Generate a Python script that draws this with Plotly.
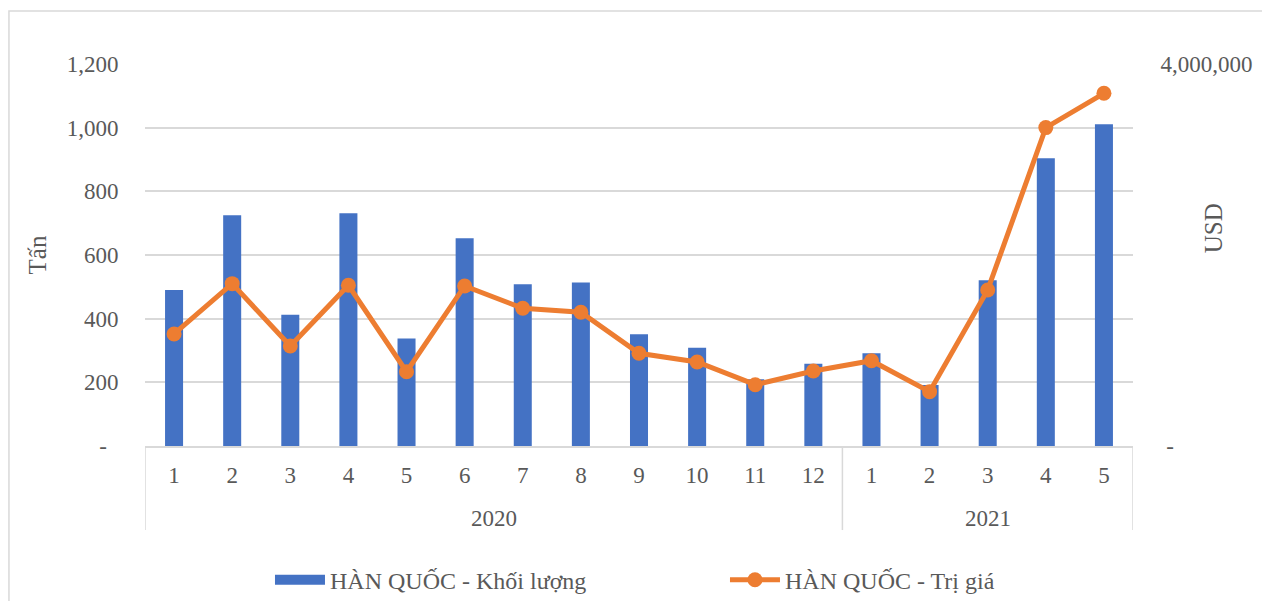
import plotly.graph_objects as go

# Monthly export figures to Korea (HÀN QUỐC), Jan 2020 - May 2021
years = ["2020"] * 12 + ["2021"] * 5
months = [str(m) for m in range(1, 13)] + [str(m) for m in range(1, 6)]
volume_tonnes = [490, 725, 412, 731, 338, 653, 508, 514, 351, 309, 210, 258,
                 291, 192, 521, 904, 1011]
value_usd = [1173000, 1700000, 1047000, 1683000, 778000, 1676000, 1442000, 1400000,
             971000, 880000, 642000, 785000,
             893000, 569000, 1634000, 3334000, 3693000]

left_ticks = [0, 200, 400, 600, 800, 1000, 1200]
left_labels = ["-\u00a0\u00a0", "200", "400", "600", "800", "1,000", "1,200"]
right_ticks = [0, 4000000]
right_labels = ["\u00a0-", "4,000,000"]

BLUE = "#4472C4"
ORANGE = "#ED7D31"
TEXT = "#595959"
GRID = "#D9D9D9"
FONT = "Liberation Serif"

pos = list(range(len(months)))

# group spans for the year row of the category axis
groups = []
for i, yr in enumerate(years):
    if not groups or groups[-1][0] != yr:
        groups.append([yr, i, i])
    else:
        groups[-1][2] = i

fig = go.Figure()
fig.add_trace(go.Bar(
    x=pos, y=volume_tonnes,
    name="HÀN QUỐC - Khối lượng",
    marker=dict(color=BLUE, line=dict(width=0)),
    yaxis="y", showlegend=False,
))
# legend key drawn as a wide block, like a spreadsheet legend
fig.add_trace(go.Scatter(
    x=[None], y=[None], mode="lines",
    name="HÀN QUỐC - Khối lượng",
    line=dict(color=BLUE, width=11),
    yaxis="y",
))
fig.add_trace(go.Scatter(
    x=pos, y=value_usd,
    name="HÀN QUỐC - Trị giá",
    mode="lines+markers",
    line=dict(color=ORANGE, width=5),
    marker=dict(color=ORANGE, size=15),
    yaxis="y2",
))

annotations = []
shapes = []
for yr, i0, i1 in groups:
    annotations.append(dict(
        x=(i0 + i1) / 2, xref="x", y=-0.1885, yref="paper",
        text=yr, showarrow=False, yanchor="middle",
        font=dict(family=FONT, size=23, color=TEXT),
    ))
bounds = [groups[0][1] - 0.5] + [g[2] + 0.5 for g in groups]
for b in bounds:
    shapes.append(dict(
        type="line", xref="x", yref="paper", x0=b, x1=b, y0=0, y1=-0.22,
        line=dict(color=GRID, width=1.5),
    ))

annotations.append(dict(
    x=1.098, xref="paper", y=0.571, yref="paper", text="USD", textangle=-90,
    showarrow=False, font=dict(family=FONT, size=25, color=TEXT),
))

shapes.append(dict(
    type="rect", xref="paper", yref="paper",
    x0=-0.1377, x1=1.14, y0=-0.42, y1=1.1387,
    line=dict(color=GRID, width=1.5), fillcolor="rgba(0,0,0,0)", layer="below",
))

fig.update_layout(
    width=1262, height=601,
    margin=dict(l=145, r=129, t=64, b=155, autoexpand=False),
    paper_bgcolor="white", plot_bgcolor="white",
    font=dict(family=FONT, size=23, color=TEXT),
    bargap=0.69,
    showlegend=True,
    legend=dict(
        orientation="h", x=0.1265, xanchor="left", y=-0.351, yanchor="middle",
        font=dict(family=FONT, size=24, color=TEXT),
        bgcolor="rgba(0,0,0,0)",
        entrywidth=390, itemwidth=50,
    ),
    xaxis=dict(
        range=[-0.5, len(months) - 0.5],
        tickvals=pos, ticktext=months,
        showline=True, linecolor=GRID, linewidth=1.5,
        showgrid=False, zeroline=False,
        ticks="outside", ticklen=8, tickcolor="rgba(0,0,0,0)",
        tickfont=dict(family=FONT, size=23, color=TEXT),
        automargin=False,
    ),
    yaxis=dict(
        range=[0, 1200], tickvals=left_ticks, ticktext=left_labels,
        showgrid=True, gridcolor=GRID, gridwidth=1.5,
        zeroline=False, showline=False,
        ticks="outside", ticklen=21, tickcolor="rgba(0,0,0,0)",
        tickfont=dict(family=FONT, size=23, color=TEXT),
        title=dict(text="Tấn", font=dict(family=FONT, size=25, color=TEXT), standoff=12),
        automargin=False,
    ),
    yaxis2=dict(
        range=[0, 4000000], tickvals=right_ticks, ticktext=right_labels,
        overlaying="y", side="right",
        showgrid=False, zeroline=False, showline=False,
        ticks="outside", ticklen=22, tickcolor="rgba(0,0,0,0)",
        tickfont=dict(family=FONT, size=23, color=TEXT),
        automargin=False,
    ),
    annotations=annotations,
    shapes=shapes,
)

fig.write_html("out.html")
